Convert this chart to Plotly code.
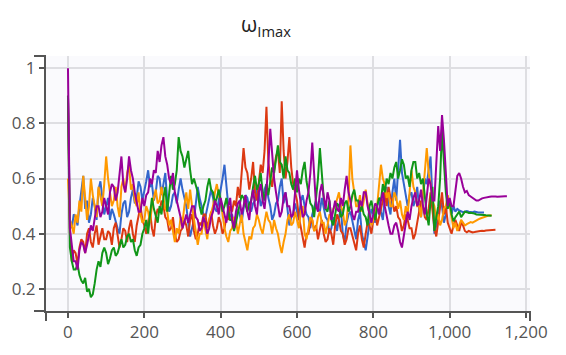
import plotly.graph_objects as go

STEP = 5  # sampling step of the recorded iterations

blue_vals = [
    0.90, 0.45, 0.42, 0.47, 0.46, 0.43, 0.50, 0.56, 0.61, 0.49, 0.52, 0.44, 0.47, 0.53, 0.50, 0.45, 0.56, 0.59, 0.52, 0.47,
    0.50, 0.53, 0.45, 0.49, 0.47, 0.44, 0.42, 0.40, 0.47, 0.51, 0.52, 0.46, 0.48, 0.53, 0.56, 0.51, 0.53, 0.59, 0.57, 0.52,
    0.55, 0.59, 0.63, 0.57, 0.58, 0.52, 0.55, 0.61, 0.60, 0.54, 0.58, 0.62, 0.52, 0.48, 0.50, 0.54, 0.55, 0.51, 0.56, 0.60,
    0.56, 0.53, 0.50, 0.44, 0.39, 0.42, 0.45, 0.51, 0.57, 0.53, 0.50, 0.47, 0.46, 0.49, 0.52, 0.56, 0.53, 0.49, 0.48, 0.52,
    0.55, 0.60, 0.65, 0.56, 0.50, 0.46, 0.47, 0.43, 0.45, 0.49, 0.47, 0.44, 0.50, 0.54, 0.53, 0.49, 0.48, 0.51, 0.52, 0.57,
    0.55, 0.50, 0.52, 0.56, 0.58, 0.53, 0.50, 0.45, 0.47, 0.51, 0.52, 0.57, 0.60, 0.51, 0.55, 0.48, 0.43, 0.46, 0.47, 0.51,
    0.48, 0.45, 0.52, 0.54, 0.50, 0.47, 0.46, 0.42, 0.47, 0.50, 0.52, 0.49, 0.48, 0.53, 0.50, 0.46, 0.45, 0.40, 0.42, 0.46,
    0.44, 0.41, 0.46, 0.49, 0.40, 0.37, 0.44, 0.47, 0.48, 0.45, 0.42, 0.38, 0.45, 0.48, 0.40, 0.37, 0.34, 0.39, 0.44, 0.49,
    0.47, 0.44, 0.50, 0.53, 0.48, 0.45, 0.53, 0.57, 0.50, 0.47, 0.55, 0.60, 0.52, 0.63, 0.74, 0.62, 0.58, 0.53, 0.50, 0.54,
    0.55, 0.50, 0.52, 0.57, 0.49, 0.46, 0.53, 0.60, 0.58, 0.64, 0.68, 0.52, 0.40, 0.43, 0.46, 0.52, 0.50, 0.44, 0.47, 0.53,
    0.52, 0.47, 0.50, 0.48, 0.49, 0.485, 0.48, 0.478, 0.48, 0.482, 0.48, 0.479, 0.478, 0.48, 0.478, 0.477, 0.477, 0.478, 0.477,
]

red_vals = [
    0.90, 0.40, 0.30, 0.34, 0.33, 0.29, 0.35, 0.38, 0.37, 0.33, 0.40, 0.42, 0.37, 0.35, 0.40, 0.43, 0.36, 0.39, 0.42, 0.38,
    0.38, 0.41, 0.40, 0.36, 0.42, 0.44, 0.39, 0.35, 0.38, 0.42, 0.41, 0.37, 0.42, 0.45, 0.40, 0.37, 0.43, 0.46, 0.50, 0.45,
    0.43, 0.40, 0.45, 0.48, 0.42, 0.39, 0.46, 0.49, 0.48, 0.52, 0.50, 0.46, 0.45, 0.41, 0.42, 0.46, 0.40, 0.37, 0.38, 0.41,
    0.42, 0.45, 0.43, 0.39, 0.45, 0.47, 0.41, 0.38, 0.40, 0.44, 0.43, 0.47, 0.47, 0.42, 0.45, 0.48, 0.43, 0.40, 0.42, 0.46,
    0.44, 0.40, 0.42, 0.46, 0.45, 0.50, 0.48, 0.52, 0.50, 0.57, 0.53, 0.62, 0.71, 0.64, 0.62, 0.56, 0.60, 0.66, 0.55, 0.52,
    0.58, 0.65, 0.62, 0.70, 0.86, 0.66, 0.60, 0.57, 0.63, 0.68, 0.70, 0.62, 0.88, 0.70, 0.60, 0.66, 0.75, 0.64, 0.58, 0.55,
    0.52, 0.46, 0.42, 0.38, 0.35, 0.40, 0.40, 0.44, 0.45, 0.41, 0.43, 0.38, 0.42, 0.45, 0.40, 0.37, 0.38, 0.42, 0.40, 0.36,
    0.43, 0.47, 0.45, 0.41, 0.40, 0.36, 0.38, 0.42, 0.42, 0.39, 0.36, 0.34, 0.40, 0.43, 0.38, 0.35, 0.40, 0.44, 0.43, 0.40,
    0.45, 0.48, 0.43, 0.46, 0.48, 0.52, 0.55, 0.50, 0.57, 0.53, 0.52, 0.48, 0.50, 0.46, 0.45, 0.41, 0.43, 0.47, 0.45, 0.42,
    0.42, 0.38, 0.40, 0.44, 0.48, 0.52, 0.50, 0.46, 0.45, 0.49, 0.55, 0.48, 0.42, 0.39, 0.44, 0.50, 0.55, 0.47, 0.50, 0.44,
    0.42, 0.40, 0.43, 0.45, 0.43, 0.41, 0.44, 0.43, 0.41, 0.405, 0.41, 0.407, 0.405, 0.406, 0.408, 0.41, 0.41, 0.411, 0.41,
    0.412, 0.412, 0.413, 0.413, 0.414, 0.414,
]

orange_vals = [
    0.60, 0.45, 0.43, 0.40, 0.47, 0.44, 0.52, 0.48, 0.61, 0.52, 0.45, 0.50, 0.60, 0.54, 0.50, 0.46, 0.57, 0.53, 0.50, 0.58,
    0.68, 0.60, 0.55, 0.50, 0.52, 0.57, 0.50, 0.46, 0.57, 0.60, 0.55, 0.62, 0.65, 0.56, 0.58, 0.52, 0.50, 0.55, 0.47, 0.44,
    0.45, 0.50, 0.48, 0.44, 0.50, 0.53, 0.56, 0.51, 0.52, 0.57, 0.53, 0.49, 0.48, 0.43, 0.45, 0.41, 0.37, 0.42, 0.40, 0.46,
    0.44, 0.50, 0.55, 0.49, 0.56, 0.50, 0.45, 0.40, 0.36, 0.40, 0.40, 0.45, 0.42, 0.38, 0.45, 0.48, 0.50, 0.55, 0.58, 0.54,
    0.52, 0.47, 0.42, 0.39, 0.37, 0.41, 0.42, 0.46, 0.45, 0.40, 0.44, 0.47, 0.40, 0.37, 0.34, 0.39, 0.38, 0.42, 0.43, 0.47,
    0.45, 0.42, 0.40, 0.44, 0.48, 0.45, 0.44, 0.40, 0.45, 0.42, 0.40, 0.36, 0.33, 0.37, 0.40, 0.45, 0.47, 0.43, 0.44, 0.48,
    0.45, 0.42, 0.48, 0.50, 0.40, 0.38, 0.42, 0.46, 0.45, 0.41, 0.42, 0.46, 0.48, 0.44, 0.44, 0.40, 0.43, 0.47, 0.46, 0.49,
    0.50, 0.53, 0.55, 0.50, 0.48, 0.43, 0.45, 0.52, 0.72, 0.60, 0.55, 0.50, 0.50, 0.54, 0.48, 0.52, 0.56, 0.51, 0.47, 0.43,
    0.45, 0.49, 0.50, 0.58, 0.65, 0.60, 0.58, 0.53, 0.55, 0.50, 0.50, 0.55, 0.53, 0.49, 0.52, 0.47, 0.45, 0.50, 0.47, 0.55,
    0.63, 0.57, 0.55, 0.50, 0.50, 0.46, 0.55, 0.62, 0.71, 0.62, 0.58, 0.52, 0.50, 0.45, 0.47, 0.43, 0.45, 0.49, 0.50, 0.54,
    0.50, 0.46, 0.42, 0.44, 0.41, 0.43, 0.45, 0.44, 0.43, 0.435, 0.44, 0.442, 0.44, 0.445, 0.45, 0.452, 0.455, 0.458, 0.46,
    0.462, 0.465, 0.466, 0.467,
]

green_vals = [
    0.90, 0.35, 0.30, 0.27, 0.27, 0.29, 0.25, 0.23, 0.22, 0.24, 0.19, 0.20, 0.17, 0.18, 0.22, 0.27, 0.30, 0.28, 0.33, 0.35,
    0.33, 0.29, 0.31, 0.34, 0.35, 0.32, 0.33, 0.36, 0.38, 0.35, 0.36, 0.39, 0.40, 0.37, 0.38, 0.34, 0.32, 0.35, 0.36, 0.40,
    0.42, 0.45, 0.40, 0.47, 0.53, 0.49, 0.46, 0.44, 0.50, 0.47, 0.53, 0.57, 0.48, 0.55, 0.61, 0.56, 0.58, 0.63, 0.75, 0.70,
    0.68, 0.64, 0.67, 0.70, 0.63, 0.58, 0.60, 0.57, 0.55, 0.50, 0.47, 0.50, 0.52, 0.57, 0.60, 0.56, 0.55, 0.51, 0.53, 0.56,
    0.52, 0.48, 0.50, 0.53, 0.48, 0.45, 0.45, 0.41, 0.44, 0.47, 0.50, 0.54, 0.53, 0.50, 0.48, 0.51, 0.52, 0.57, 0.61, 0.56,
    0.58, 0.62, 0.55, 0.52, 0.58, 0.54, 0.60, 0.64, 0.62, 0.67, 0.72, 0.66, 0.65, 0.60, 0.68, 0.63, 0.62, 0.58, 0.56, 0.60,
    0.55, 0.60, 0.58, 0.63, 0.66, 0.59, 0.55, 0.51, 0.50, 0.46, 0.53, 0.60, 0.71, 0.60, 0.53, 0.49, 0.48, 0.52, 0.45, 0.43,
    0.47, 0.51, 0.50, 0.46, 0.47, 0.51, 0.52, 0.48, 0.50, 0.54, 0.56, 0.52, 0.52, 0.48, 0.50, 0.47, 0.46, 0.43, 0.50, 0.52,
    0.48, 0.45, 0.50, 0.53, 0.52, 0.58, 0.55, 0.60, 0.58, 0.62, 0.60, 0.64, 0.66, 0.60, 0.63, 0.67, 0.65, 0.60, 0.61, 0.57,
    0.63, 0.66, 0.66, 0.60, 0.62, 0.58, 0.60, 0.52, 0.47, 0.43, 0.52, 0.57, 0.41, 0.46, 0.50, 0.60, 0.78, 0.66, 0.55, 0.49,
    0.52, 0.47, 0.445, 0.46, 0.47, 0.48, 0.46, 0.47, 0.48, 0.478, 0.475, 0.476, 0.475, 0.473, 0.47, 0.47, 0.47, 0.469, 0.468,
    0.467, 0.466, 0.465, 0.465,
]

purple_vals = [
    1.00, 0.42, 0.36, 0.30, 0.30, 0.27, 0.34, 0.37, 0.36, 0.33, 0.36, 0.40, 0.43, 0.41, 0.45, 0.50, 0.50, 0.46, 0.48, 0.53,
    0.50, 0.47, 0.55, 0.58, 0.57, 0.52, 0.55, 0.62, 0.68, 0.58, 0.55, 0.60, 0.68, 0.63, 0.60, 0.55, 0.52, 0.48, 0.48, 0.53,
    0.50, 0.54, 0.55, 0.60, 0.58, 0.63, 0.62, 0.70, 0.66, 0.72, 0.75, 0.68, 0.65, 0.60, 0.58, 0.62, 0.55, 0.52, 0.50, 0.46,
    0.42, 0.45, 0.47, 0.44, 0.47, 0.50, 0.50, 0.46, 0.45, 0.41, 0.42, 0.46, 0.44, 0.40, 0.42, 0.46, 0.48, 0.52, 0.50, 0.47,
    0.53, 0.50, 0.47, 0.44, 0.50, 0.53, 0.45, 0.42, 0.48, 0.51, 0.52, 0.47, 0.50, 0.54, 0.48, 0.45, 0.52, 0.56, 0.50, 0.47,
    0.55, 0.58, 0.52, 0.49, 0.56, 0.65, 0.78, 0.68, 0.60, 0.55, 0.50, 0.46, 0.48, 0.53, 0.55, 0.50, 0.50, 0.46, 0.47, 0.55,
    0.63, 0.56, 0.50, 0.46, 0.47, 0.52, 0.55, 0.62, 0.73, 0.60, 0.50, 0.48, 0.55, 0.58, 0.53, 0.49, 0.55, 0.52, 0.45, 0.48,
    0.52, 0.49, 0.48, 0.53, 0.50, 0.56, 0.61, 0.55, 0.52, 0.47, 0.45, 0.48, 0.48, 0.52, 0.50, 0.55, 0.55, 0.50, 0.47, 0.44,
    0.47, 0.51, 0.50, 0.47, 0.52, 0.55, 0.50, 0.46, 0.43, 0.40, 0.40, 0.43, 0.44, 0.41, 0.37, 0.35, 0.39, 0.43, 0.48, 0.45,
    0.50, 0.53, 0.55, 0.50, 0.52, 0.56, 0.50, 0.47, 0.55, 0.60, 0.58, 0.52, 0.52, 0.65, 0.79, 0.70, 0.83, 0.74, 0.60, 0.50,
    0.53, 0.50, 0.50, 0.55, 0.61, 0.62, 0.60, 0.57, 0.55, 0.555, 0.54, 0.535, 0.53, 0.525, 0.52, 0.52, 0.525, 0.528, 0.53,
    0.532, 0.532, 0.534, 0.535, 0.536, 0.535, 0.534, 0.535, 0.536, 0.536, 0.536, 0.536,
]

series = [
    ("run 1", blue_vals, "#3366cc"),
    ("run 2", red_vals, "#dc3912"),
    ("run 3", orange_vals, "#ff9900"),
    ("run 4", green_vals, "#109618"),
    ("run 5", purple_vals, "#990099"),
]

x_tickvals = [0, 200, 400, 600, 800, 1000, 1200]
y_tickvals = [0.2, 0.4, 0.6, 0.8, 1.0]
y_ticktext = ["0.2", "0.4", "0.6", "0.8", "1"]

fig = go.Figure()
for name, vals, color in series:
    xs = [i * STEP for i in range(len(vals))]
    fig.add_trace(go.Scatter(x=xs, y=vals, mode="lines", name=name,
                             line=dict(color=color, width=2)))

axis_col = "#555555"
W, H = 566, 355
ml, mr, mt, mb = 46, 36, 56, 41
pw, ph = W - ml - mr, H - mt - mb
cap = 12

fig.update_layout(
    width=W, height=H,
    margin=dict(l=ml, r=mr, t=mt, b=mb),
    paper_bgcolor="white",
    plot_bgcolor="#fafafd",
    showlegend=False,
    font=dict(family="Open Sans", color="#555555", size=17),
    title=dict(text="ω<sub>Imax</sub>", x=0.47, xanchor="center", y=0.95, yanchor="top",
               font=dict(family="Open Sans", size=21, color="#222222")),
    xaxis=dict(range=[-57.6, 1210.5], tickvals=x_tickvals, tickformat=",d",
               showgrid=True, gridcolor="#dedee2", gridwidth=1.5, zeroline=False,
               showline=True, linecolor=axis_col, linewidth=2,
               ticks="outside", ticklen=5, tickwidth=2, tickcolor=axis_col,
               tickfont=dict(size=17, color="#555555")),
    yaxis=dict(range=[0.12, 1.044], tickvals=y_tickvals, ticktext=y_ticktext,
               showgrid=True, gridcolor="#dedee2", gridwidth=1.5, zeroline=False,
               showline=True, linecolor=axis_col, linewidth=2,
               ticks="outside", ticklen=5, tickwidth=2, tickcolor=axis_col,
               tickfont=dict(size=17, color="#555555")),
)

# axis end caps
line_style = dict(color=axis_col, width=2)
fig.add_shape(type="line", xref="paper", yref="paper", x0=-cap / pw, x1=0, y0=1, y1=1, line=line_style)
fig.add_shape(type="line", xref="paper", yref="paper", x0=-cap / pw, x1=0, y0=0, y1=0, line=line_style)
fig.add_shape(type="line", xref="paper", yref="paper", x0=0, x1=0, y0=0, y1=-10 / ph, line=line_style)
fig.add_shape(type="line", xref="paper", yref="paper", x0=1, x1=1, y0=0, y1=-10 / ph, line=line_style)

fig.write_html("out.html")
